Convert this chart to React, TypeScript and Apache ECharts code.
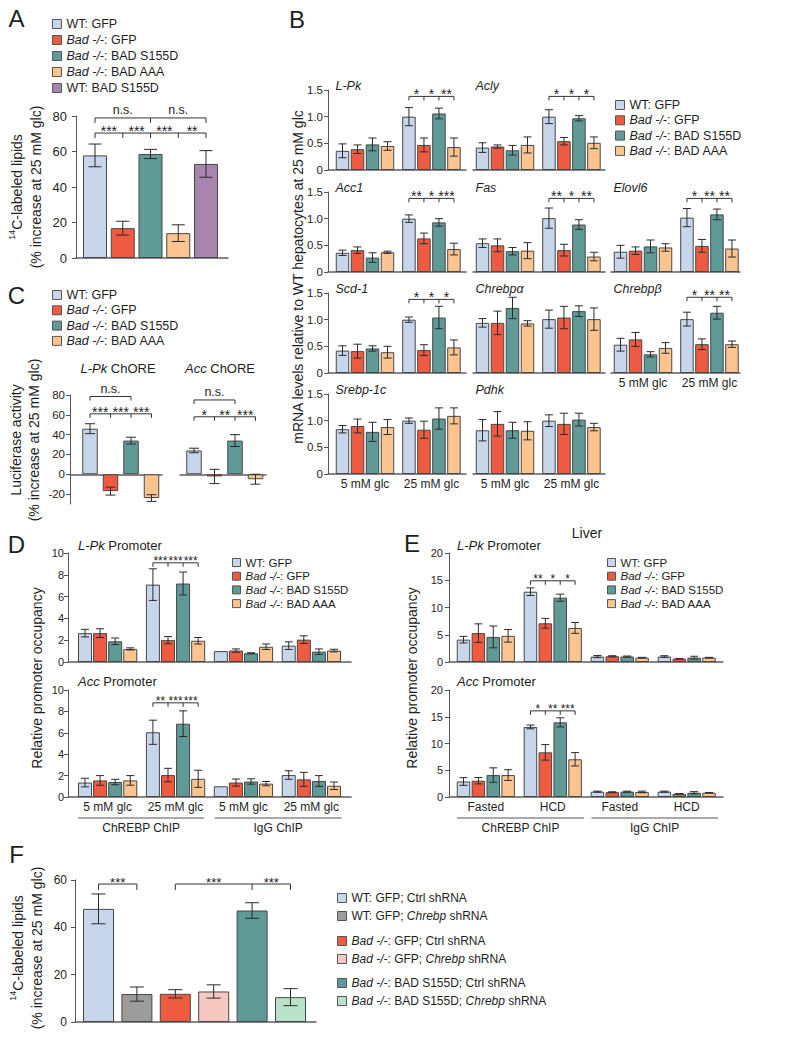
import React, { useEffect, useRef } from "react";
import * as echarts from "echarts";

const FONT = "'Liberation Sans', Arial, Helvetica, sans-serif";
const INK = "#1e1e1e";
const AXIS_COLOR = "#555";

const PALETTE = {
  wt: "#c7d6ea",
  bad: "#ef5b41",
  s155d: "#5f9a96",
  aaa: "#fcc58f",
  wts: "#a884b0",
  grey: "#9c9c9c",
  pink: "#f5c8c1",
  green: "#b9e2c9",
};

// ---------------- DATA ----------------
const GENOTYPES = ["WT: GFP", "Bad -/-: GFP", "Bad -/-: BAD S155D", "Bad -/-: BAD AAA"];
const GENO_COLORS = [PALETTE.wt, PALETTE.bad, PALETTE.s155d, PALETTE.aaa];

// Panel A
const A_GROUPS = [...GENOTYPES, "WT: BAD S155D"];
const A_COLORS = [...GENO_COLORS, PALETTE.wts];
const A_MEAN = [57.8, 16.8, 58.6, 14, 53];
const A_ERR = [6.4, 3.9, 2.6, 4.7, 7.5];
const A_TICKS = [0, 20, 40, 60, 80];
const A_NS = ["n.s.", "n.s."];
const A_STARS = ["***", "***", "***", "**"];

// Panel B (order: 5 mM glc x4 genotypes, 25 mM glc x4 genotypes)
const B_CONDITIONS = ["5 mM glc", "25 mM glc"];
const B_TICKS = [0, 0.5, 1.0, 1.5];
const LPK_MEAN = [0.36, 0.39, 0.48, 0.45, 1.0, 0.47, 1.06, 0.43];
const LPK_ERR = [0.13, 0.08, 0.12, 0.08, 0.17, 0.13, 0.1, 0.17];
const ACLY_MEAN = [0.42, 0.44, 0.37, 0.47, 1.0, 0.54, 0.97, 0.51];
const ACLY_ERR = [0.09, 0.03, 0.09, 0.15, 0.13, 0.07, 0.05, 0.11];
const ACC1_MEAN = [0.36, 0.41, 0.27, 0.37, 1.0, 0.63, 0.93, 0.43];
const ACC1_ERR = [0.05, 0.06, 0.09, 0.02, 0.07, 0.1, 0.07, 0.11];
const FAS_MEAN = [0.54, 0.5, 0.39, 0.4, 1.01, 0.41, 0.89, 0.29];
const FAS_ERR = [0.08, 0.12, 0.07, 0.15, 0.19, 0.11, 0.09, 0.08];
const ELOVL6_MEAN = [0.38, 0.4, 0.48, 0.46, 1.02, 0.49, 1.08, 0.44];
const ELOVL6_ERR = [0.12, 0.07, 0.12, 0.07, 0.17, 0.12, 0.1, 0.16];
const SCD1_MEAN = [0.42, 0.41, 0.46, 0.39, 1.0, 0.43, 1.04, 0.48];
const SCD1_ERR = [0.09, 0.13, 0.05, 0.11, 0.05, 0.1, 0.21, 0.14];
const CHREBPA_MEAN = [0.94, 0.94, 1.22, 0.93, 1.01, 1.04, 1.16, 1.01];
const CHREBPA_ERR = [0.08, 0.22, 0.2, 0.05, 0.17, 0.21, 0.1, 0.21];
const CHREBPB_MEAN = [0.53, 0.63, 0.35, 0.47, 1.01, 0.54, 1.13, 0.54];
const CHREBPB_ERR = [0.12, 0.13, 0.05, 0.1, 0.13, 0.1, 0.12, 0.06];
const SREBP_MEAN = [0.84, 0.9, 0.79, 0.88, 1.0, 0.83, 1.04, 1.09];
const SREBP_ERR = [0.07, 0.13, 0.18, 0.14, 0.05, 0.16, 0.2, 0.15];
const PDHK_MEAN = [0.82, 0.94, 0.82, 0.81, 1.0, 0.94, 1.02, 0.88];
const PDHK_ERR = [0.2, 0.23, 0.15, 0.17, 0.11, 0.2, 0.12, 0.07];
const LPK_STARS = ["*", "*", "**"];
const ACLY_STARS = ["*", "*", "*"];
const ACC1_STARS = ["**", "*", "***"];
const FAS_STARS = ["**", "*", "**"];
const ELOVL6_STARS = ["*", "**", "**"];
const SCD1_STARS = ["*", "*", "*"];
const CHREBPB_STARS = ["*", "**", "**"];

// Panel C
const C_TICKS = [-20, 0, 20, 40, 60, 80];
const C_LPK_MEAN = [46, -17, 34, -24];
const C_LPK_ERR = [5, 4, 3.4, 3.4];
const C_ACC_MEAN = [24, -2.2, 34, -5];
const C_ACC_ERR = [2.3, 7.2, 6, 5];
const C_LPK_STARS = ["***", "***", "***"];
const C_ACC_STARS = ["*", "**", "***"];

// Panel D (groups: 5 mM ChREBP, 25 mM ChREBP, 5 mM IgG, 25 mM IgG; 4 genotypes each)
const D_XLABELS = ["5 mM glc", "25 mM glc", "5 mM glc", "25 mM glc"];
const D_TICKS = [0, 2, 4, 6, 8, 10];
const D_LPK_MEAN = [2.65, 2.65, 1.9, 1.2, 7.1, 2.0, 7.2, 1.95, 1.0, 1.05, 0.8, 1.4, 1.5, 2.05, 0.95, 1.05];
const D_LPK_ERR = [0.35, 0.4, 0.3, 0.1, 1.45, 0.33, 1.05, 0.3, 0, 0.15, 0.05, 0.25, 0.35, 0.35, 0.25, 0.12];
const D_ACC_MEAN = [1.35, 1.55, 1.4, 1.55, 6.05, 2.05, 6.85, 1.7, 1.0, 1.35, 1.45, 1.25, 2.05, 1.65, 1.5, 1.05];
const D_ACC_ERR = [0.4, 0.45, 0.25, 0.45, 1.13, 0.63, 1.2, 0.8, 0, 0.33, 0.25, 0.2, 0.4, 0.65, 0.5, 0.35];
const D_LPK_STARS = ["***", "***", "***"];
const D_ACC_STARS = ["**", "***", "***"];
const CHIP_LABELS = ["ChREBP ChIP", "IgG ChIP"];

// Panel E
const E_XLABELS = ["Fasted", "HCD", "Fasted", "HCD"];
const E_TICKS = [0, 5, 10, 15, 20];
const E_LPK_MEAN = [4.1, 5.3, 4.6, 4.8, 12.9, 7.1, 11.8, 6.25, 1.0, 1.05, 1.0, 0.8, 1.0, 0.6, 0.8, 0.8];
const E_LPK_ERR = [0.6, 1.7, 2.0, 1.15, 0.7, 0.9, 0.65, 1.0, 0.2, 0.1, 0.1, 0.05, 0.15, 0.05, 0.25, 0.05];
const E_ACC_MEAN = [2.9, 3.05, 4.1, 4.1, 13.1, 8.35, 13.95, 7.05, 1.0, 0.9, 1.0, 0.95, 1.0, 0.6, 0.8, 0.8];
const E_ACC_ERR = [0.72, 0.6, 1.35, 1.0, 0.35, 1.45, 0.85, 1.25, 0.1, 0.08, 0.1, 0.15, 0.1, 0.03, 0.2, 0.05];
const E_LPK_STARS = ["**", "*", "*"];
const E_ACC_STARS = ["*", "**", "***"];

// Panel F
const F_GROUPS = [
  "WT: GFP; Ctrl shRNA",
  "WT: GFP; Chrebp shRNA",
  "Bad -/-: GFP; Ctrl shRNA",
  "Bad -/-: GFP; Chrebp shRNA",
  "Bad -/-: BAD S155D; Ctrl shRNA",
  "Bad -/-: BAD S155D; Chrebp shRNA",
];
const F_COLORS = [PALETTE.wt, PALETTE.grey, PALETTE.bad, PALETTE.pink, PALETTE.s155d, PALETTE.green];
const F_MEAN = [47.8, 11.8, 11.9, 12.9, 47.1, 10.5];
const F_ERR = [6.3, 3, 1.75, 2.8, 3.3, 3.6];
const F_TICKS = [0, 20, 40, 60];
const F_STARS = ["***", "***", "***"];

// ---------------- LAYOUT HELPERS ----------------
type Bracket = { ticks: number[]; y: number; labels: string[] };
type BarSpec = { name: string; color: string; pos: number[]; mean: number[] };
type Panel = {
  left: number; top: number; width: number; height: number;
  firstPx: number; lastPx: number; firstPos: number; lastPos: number;
  yMin: number; yMax: number; yTicks: number[]; yShow: boolean;
  yFmt?: (v: number) => string; yFont: number; yMargin: number;
  bars: BarSpec[]; barWidth: number; capWidth: number; errors: number[][];
  xLabels?: { pos: number[]; text: string[] };
  brackets?: Bracket[]; starFont: number; drop: number;
  spans?: [number, number, string][];
};

const POS4 = [1, 2, 3, 4];
const B_POS = [1, 2, 3, 4, 5.43, 6.43, 7.43, 8.43];
const POS16 = [1, 2, 3, 4, 5.5, 6.5, 7.5, 8.5, 10, 11, 12, 13, 14.5, 15.5, 16.5, 17.5];

function groupBars(pos: number[], mean: number[], n: number): BarSpec[] {
  return GENOTYPES.map((name, g) => {
    const idx: number[] = [];
    for (let i = g; i < mean.length; i += n) idx.push(i);
    return { name, color: GENO_COLORS[g], pos: idx.map((i) => pos[i]), mean: idx.map((i) => mean[i]) };
  });
}
function errs(pos: number[], mean: number[], err: number[]) {
  return mean.map((m, i) => [pos[i], m, err[i]]);
}

const lineStyle = (c = "#2b2b2b") => ({ stroke: c, lineWidth: 1 });
function txt(x: number, y: number, text: string, size: number, align: string, valign: string, extra: any = {}) {
  return {
    type: "text", x, y, silent: true,
    style: {
      text, fill: INK, fontSize: size, fontFamily: FONT,
      align, verticalAlign: valign, textAlign: align, textVerticalAlign: valign, ...extra,
    },
  };
}

function buildPanels(panels: Panel[]) {
  const grid: any[] = [], xAxis: any[] = [], yAxis: any[] = [], series: any[] = [];
  panels.forEach((p, k) => {
    const s = (p.lastPx - p.firstPx) / (p.lastPos - p.firstPos);
    const xmin = p.firstPos - (p.firstPx - p.left) / s;
    const xmax = xmin + p.width / s;
    grid.push({ left: p.left, top: p.top, width: p.width, height: p.height, containLabel: false, outerBoundsMode: "none" });
    const xl = p.xLabels;
    xAxis.push({
      type: "value", gridIndex: k, min: xmin, max: xmax,
      splitLine: { show: false }, axisTick: { show: false },
      axisLine: { show: true, onZero: true, lineStyle: { color: "#5e5e5e", width: 1.5 } },
      axisLabel: xl
        ? {
            show: true, customValues: xl.pos, margin: 4, fontSize: 12, color: INK, fontFamily: FONT,
            formatter: (v: number) => {
              const i = xl.pos.findIndex((q) => Math.abs(q - v) < 1e-6);
              return i >= 0 ? xl.text[i] : "";
            },
          }
        : { show: false },
    });
    yAxis.push({
      type: "value", gridIndex: k, min: p.yMin, max: p.yMax, show: p.yShow,
      splitLine: { show: false },
      axisLine: { show: true, onZero: false, lineStyle: { color: AXIS_COLOR, width: 1 } },
      axisTick: { show: true, length: 4, customValues: p.yTicks, lineStyle: { color: AXIS_COLOR, width: 1 } },
      axisLabel: {
        show: true, customValues: p.yTicks, formatter: p.yFmt, fontSize: p.yFont, margin: p.yMargin,
        color: INK, fontFamily: FONT,
      },
    });
    p.bars.forEach((b) => {
      series.push({
        type: "bar", name: b.name, xAxisIndex: k, yAxisIndex: k,
        data: b.pos.map((x, i) => [x, b.mean[i]]),
        barWidth: p.barWidth, barGap: "-100%", silent: true,
        itemStyle: { color: b.color, borderColor: "#474747", borderWidth: 1 },
      });
    });
    const cap = p.capWidth;
    series.push({
      type: "custom", xAxisIndex: k, yAxisIndex: k, silent: true, z: 5,
      data: p.errors,
      renderItem: (params: any, api: any) => {
        const x = api.value(0), m = api.value(1), e = api.value(2);
        if (!e) return null;
        const t = api.coord([x, m + e]);
        const b = api.coord([x, m - e]);
        return {
          type: "group",
          children: [
            { type: "line", shape: { x1: t[0], y1: t[1], x2: b[0], y2: b[1] }, style: lineStyle() },
            { type: "line", shape: { x1: t[0] - cap / 2, y1: t[1], x2: t[0] + cap / 2, y2: t[1] }, style: lineStyle() },
            { type: "line", shape: { x1: b[0] - cap / 2, y1: b[1], x2: b[0] + cap / 2, y2: b[1] }, style: lineStyle() },
          ],
        };
      },
    });
    const brs = p.brackets || [];
    if (brs.length) {
      series.push({
        type: "custom", xAxisIndex: k, yAxisIndex: k, silent: true, z: 6,
        data: brs.map((b) => [b.ticks[0], b.y]),
        renderItem: (params: any, api: any) => {
          const b = brs[params.dataIndex];
          const pts = b.ticks.map((t) => api.coord([t, b.y]));
          const y = pts[0][1];
          const children: any[] = [
            { type: "line", shape: { x1: pts[0][0], y1: y, x2: pts[pts.length - 1][0], y2: y }, style: lineStyle("#333") },
          ];
          pts.forEach((q: number[]) =>
            children.push({ type: "line", shape: { x1: q[0], y1: y, x2: q[0], y2: y + p.drop }, style: lineStyle("#333") })
          );
          b.labels.forEach((lab, i) => {
            const cx = (pts[i][0] + pts[i + 1][0]) / 2;
            const star = lab.indexOf("*") >= 0;
            children.push(star ? txt(cx, y - 2, lab, p.starFont, "center", "middle") : txt(cx, y - 1, lab, 12.5, "center", "bottom"));
          });
          return { type: "group", children };
        },
      });
    }
    const spans = p.spans || [];
    if (spans.length) {
      series.push({
        type: "custom", xAxisIndex: k, yAxisIndex: k, silent: true, z: 6,
        data: spans.map((sp) => [sp[0], p.yMin]),
        renderItem: (params: any, api: any) => {
          const sp = spans[params.dataIndex];
          const a = api.coord([sp[0], p.yMin]);
          const b = api.coord([sp[1], p.yMin]);
          const y = a[1] + 21;
          return {
            type: "group",
            children: [
              { type: "line", shape: { x1: a[0], y1: y, x2: b[0], y2: y }, style: lineStyle("#555") },
              txt((a[0] + b[0]) / 2, y + 4, sp[2], 12, "center", "top"),
            ],
          };
        },
      });
    }
  });
  return { grid, xAxis, yAxis, series };
}

const italicize = (s: string) => s.replace("Bad -/-", "{i|Bad -/-}").replace("Chrebp", "{i|Chrebp}");
function legend(names: string[], left: number, top: number, fontSize: number, lineHeight: number, gap: number, icon: number) {
  return {
    show: true, data: names, orient: "vertical", left, top, padding: 0, itemGap: gap,
    itemWidth: icon, itemHeight: icon, icon: "rect", selectedMode: false,
    itemStyle: { borderColor: "#555", borderWidth: 1 },
    formatter: italicize,
    textStyle: {
      fontSize, fontFamily: FONT, color: INK, lineHeight,
      rich: { i: { fontStyle: "italic", fontSize, fontFamily: FONT, color: INK, lineHeight } },
    },
  };
}

function buildOption() {
  const panels: Panel[] = [];

  // A
  panels.push({
    left: 76, top: 116, width: 152, height: 142, firstPx: 95, lastPx: 206, firstPos: 1, lastPos: 5,
    yMin: 0, yMax: 80, yTicks: A_TICKS, yShow: true, yFont: 13, yMargin: 9,
    bars: A_GROUPS.map((name, i) => ({ name, color: A_COLORS[i], pos: [i + 1], mean: [A_MEAN[i]] })),
    barWidth: 24, capWidth: 13, errors: A_MEAN.map((m, i) => [i + 1, m, A_ERR[i]]),
    brackets: [
      { ticks: [1, 3, 5], y: 78.9, labels: A_NS },
      { ticks: [1, 2, 3, 4, 5], y: 70.4, labels: A_STARS },
    ],
    starFont: 14, drop: 5,
  });

  // B
  const B_SETS = [
    { gene: "L-Pk", mean: LPK_MEAN, err: LPK_ERR, stars: LPK_STARS },
    { gene: "Acly", mean: ACLY_MEAN, err: ACLY_ERR, stars: ACLY_STARS },
    { gene: "Acc1", mean: ACC1_MEAN, err: ACC1_ERR, stars: ACC1_STARS },
    { gene: "Fas", mean: FAS_MEAN, err: FAS_ERR, stars: FAS_STARS },
    { gene: "Elovl6", mean: ELOVL6_MEAN, err: ELOVL6_ERR, stars: ELOVL6_STARS },
    { gene: "Scd-1", mean: SCD1_MEAN, err: SCD1_ERR, stars: SCD1_STARS },
    { gene: "Chrebpα", mean: CHREBPA_MEAN, err: CHREBPA_ERR, stars: null },
    { gene: "Chrebpβ", mean: CHREBPB_MEAN, err: CHREBPB_ERR, stars: CHREBPB_STARS },
    { gene: "Srebp-1c", mean: SREBP_MEAN, err: SREBP_ERR, stars: null },
    { gene: "Pdhk", mean: PDHK_MEAN, err: PDHK_ERR, stars: null },
  ];
  const B_CELLS = [[0, 0], [0, 1], [1, 0], [1, 1], [1, 2], [2, 0], [2, 1], [2, 2], [3, 0], [3, 1]];
  const BCOL_LEFT = [328, 473, 611];
  const BCOL_W = [138, 132, 129];
  const BCOL_FIRST = [342.5, 482.5, 620.5];
  const BROW_TOP = [90, 192, 293, 394];
  const geneTitles: any[] = [];
  B_SETS.forEach((set, gi) => {
    const [r, c] = B_CELLS[gi];
    const showX = r === 3 || (r === 2 && c === 2);
    panels.push({
      left: BCOL_LEFT[c], top: BROW_TOP[r], width: BCOL_W[c], height: 80,
      firstPx: BCOL_FIRST[c], lastPx: BCOL_FIRST[c] + 7.43 * 15, firstPos: 1, lastPos: 8.43,
      yMin: 0, yMax: 1.5, yTicks: B_TICKS, yShow: c === 0,
      yFmt: (v: number) => (v === 0 ? "0" : v.toFixed(1)), yFont: 11.5, yMargin: 5,
      bars: groupBars(B_POS, set.mean, 4), barWidth: 13.5, capWidth: 8,
      errors: errs(B_POS, set.mean, set.err),
      xLabels: showX ? { pos: [2.5, 6.93], text: B_CONDITIONS } : undefined,
      brackets: set.stars ? [{ ticks: [5.43, 6.43, 7.43, 8.43], y: set.gene === "Chrebpβ" ? 1.42 : 1.38, labels: set.stars }] : [],
      starFont: 14, drop: 4,
    });
    geneTitles.push(txt(BCOL_FIRST[c] - 7, BROW_TOP[r] - 4, set.gene, 12.5, "left", "middle", { fontStyle: "italic" }));
  });

  // C
  const cCommon = { top: 395, height: 109, firstPos: 1, lastPos: 4, yMin: -30, yMax: 80, yTicks: C_TICKS, yFont: 11.5, yMargin: 5, barWidth: 15.5, capWidth: 10, starFont: 14, drop: 4 };
  panels.push({
    ...cCommon, left: 70, width: 92, firstPx: 90, lastPx: 151.5, yShow: true,
    bars: groupBars(POS4, C_LPK_MEAN, 4), errors: errs(POS4, C_LPK_MEAN, C_LPK_ERR),
    brackets: [
      { ticks: [1, 3], y: 78.5, labels: ["n.s."] },
      { ticks: [1, 2, 3, 4], y: 61, labels: C_LPK_STARS },
    ],
  });
  panels.push({
    ...cCommon, left: 180, width: 86, firstPx: 194, lastPx: 255.5, yShow: false,
    bars: groupBars(POS4, C_ACC_MEAN, 4), errors: errs(POS4, C_ACC_MEAN, C_ACC_ERR),
    brackets: [
      { ticks: [1, 3], y: 75, labels: ["n.s."] },
      { ticks: [1, 2, 3, 4], y: 58, labels: C_ACC_STARS },
    ],
  });

  // D
  const dCommon = { left: 68, width: 283, firstPx: 85, lastPx: 334, firstPos: 1, lastPos: 17.5, yMin: 0, yMax: 10, yTicks: D_TICKS, yShow: true, yFont: 11, yMargin: 4, barWidth: 14, capWidth: 8, starFont: 12, drop: 4 };
  panels.push({
    ...dCommon, top: 553, height: 109,
    bars: groupBars(POS16, D_LPK_MEAN, 4), errors: errs(POS16, D_LPK_MEAN, D_LPK_ERR),
    brackets: [{ ticks: [5.5, 6.5, 7.5, 8.5], y: 9.1, labels: D_LPK_STARS }],
  });
  panels.push({
    ...dCommon, top: 690, height: 107,
    bars: groupBars(POS16, D_ACC_MEAN, 4), errors: errs(POS16, D_ACC_MEAN, D_ACC_ERR),
    xLabels: { pos: [2.5, 7, 11.5, 16], text: D_XLABELS },
    brackets: [{ ticks: [5.5, 6.5, 7.5, 8.5], y: 8.8, labels: D_ACC_STARS }],
    spans: [[0.54, 8.9, CHIP_LABELS[0]], [9.6, 18.0, CHIP_LABELS[1]]],
  });

  // E
  const eCommon = { left: 449, width: 274, firstPx: 463.5, lastPx: 709, firstPos: 1, lastPos: 17.5, yMin: 0, yMax: 20, yTicks: E_TICKS, yShow: true, yFont: 11, yMargin: 6, barWidth: 13.5, capWidth: 8, starFont: 12, drop: 4 };
  panels.push({
    ...eCommon, top: 553, height: 109,
    bars: groupBars(POS16, E_LPK_MEAN, 4), errors: errs(POS16, E_LPK_MEAN, E_LPK_ERR),
    brackets: [{ ticks: [5.5, 6.5, 7.5, 8.5], y: 14.9, labels: E_LPK_STARS }],
  });
  panels.push({
    ...eCommon, top: 690, height: 107,
    bars: groupBars(POS16, E_ACC_MEAN, 4), errors: errs(POS16, E_ACC_MEAN, E_ACC_ERR),
    xLabels: { pos: [2.5, 7, 11.5, 16], text: E_XLABELS },
    brackets: [{ ticks: [5.5, 6.5, 7.5, 8.5], y: 16.1, labels: E_ACC_STARS }],
    spans: [[0.56, 9.1, CHIP_LABELS[0]], [9.6, 18.1, CHIP_LABELS[1]]],
  });

  // F
  panels.push({
    left: 75, top: 880, width: 241, height: 142, firstPx: 98.5, lastPx: 290.5, firstPos: 1, lastPos: 6,
    yMin: 0, yMax: 60, yTicks: F_TICKS, yShow: true, yFont: 12, yMargin: 8,
    bars: F_GROUPS.map((name, i) => ({ name, color: F_COLORS[i], pos: [i + 1], mean: [F_MEAN[i]] })),
    barWidth: 31, capWidth: 14, errors: F_MEAN.map((m, i) => [i + 1, m, F_ERR[i]]),
    brackets: [
      { ticks: [1, 2], y: 58.3, labels: [F_STARS[0]] },
      { ticks: [3, 5, 6], y: 58.3, labels: [F_STARS[1], F_STARS[2]] },
    ],
    starFont: 13, drop: 6,
  });

  const built = buildPanels(panels);

  const supRich = {
    s: { fontSize: 9, fontFamily: FONT, fill: INK, color: INK, verticalAlign: "top", lineHeight: 12 },
  };
  const rotLabel = (x: number, y: number, text: string, size: number, lh: number, rich?: any) => ({
    type: "text", x, y, rotation: Math.PI / 2, silent: true,
    style: {
      text, fill: INK, fontSize: size, fontFamily: FONT, lineHeight: lh,
      align: "center", verticalAlign: "middle", textAlign: "center", textVerticalAlign: "middle",
      rich,
    },
  });
  const italicRich = (size: number) => ({ i: { fontStyle: "italic", fontSize: size, fontFamily: FONT, fill: INK, color: INK } });

  const graphics: any[] = [
    txt(16.5, 18.5, "A", 24, "center", "middle"),
    txt(297, 19, "B", 24, "center", "middle"),
    txt(16.5, 295, "C", 24, "center", "middle"),
    txt(16.5, 544, "D", 24, "center", "middle"),
    txt(412, 543, "E", 24, "center", "middle"),
    txt(16.5, 854, "F", 24, "center", "middle"),
    txt(587, 533, "Liver", 14, "center", "middle"),
    rotLabel(26, 187, "{s|14}C-labeled lipids\n(% increase at 25 mM glc)", 14, 19, supRich),
    rotLabel(298, 277, "mRNA levels relative to WT hepatocytes at 25 mM glc", 14, 16),
    rotLabel(25, 440, "Luciferase activity\n(% increase at 25 mM glc)", 14, 18),
    rotLabel(37, 678, "Relative promoter occupancy", 14, 16),
    rotLabel(412, 678, "Relative promoter occupancy", 14, 16),
    rotLabel(27, 948, "{s|14}C-labeled lipids\n(% increase at 25 mM glc)", 14, 19, supRich),
    txt(118, 368, "{i|L-Pk} ChORE", 13, "center", "middle", { rich: italicRich(13) }),
    txt(220, 368, "{i|Acc} ChORE", 13, "center", "middle", { rich: italicRich(13) }),
    txt(78, 545, "{i|L-Pk} Promoter", 13, "left", "middle", { rich: italicRich(13) }),
    txt(78, 681, "{i|Acc} Promoter", 13, "left", "middle", { rich: italicRich(13) }),
    txt(457, 545, "{i|L-Pk} Promoter", 13, "left", "middle", { rich: italicRich(13) }),
    txt(457, 681, "{i|Acc} Promoter", 13, "left", "middle", { rich: italicRich(13) }),
    ...geneTitles,
  ];

  return {
    animation: false,
    backgroundColor: "#ffffff",
    textStyle: { fontFamily: FONT },
    legend: [
      legend(A_GROUPS, 52, 17, 12.5, 14, 2, 9),
      legend(GENOTYPES, 615, 98, 12.5, 14, 1.3, 9),
      legend(GENOTYPES, 52, 288, 12.5, 14, 1.3, 9),
      legend(GENOTYPES, 232, 556, 11.5, 13, 0.7, 8),
      legend(GENOTYPES, 607, 556, 11.5, 13, 0.7, 8),
      legend(F_GROUPS.slice(0, 2), 337, 891, 12, 14, 4, 9),
      legend(F_GROUPS.slice(2, 4), 337, 934, 12, 14, 4, 9),
      legend(F_GROUPS.slice(4, 6), 337, 976, 12, 14, 4, 9),
    ],
    grid: built.grid,
    xAxis: built.xAxis,
    yAxis: built.yAxis,
    series: built.series,
    graphic: { elements: graphics },
  };
}

export default function App() {
  const ref = useRef<HTMLDivElement>(null);
  useEffect(() => {
    document.body.style.margin = "0";
    const chart = echarts.init(ref.current!, null, { renderer: "svg", width: 800, height: 1037 });
    chart.setOption(buildOption() as any);
    return () => chart.dispose();
  }, []);
  return <div ref={ref} style={{ width: 800, height: 1037, background: "#fff" }} />;
}
